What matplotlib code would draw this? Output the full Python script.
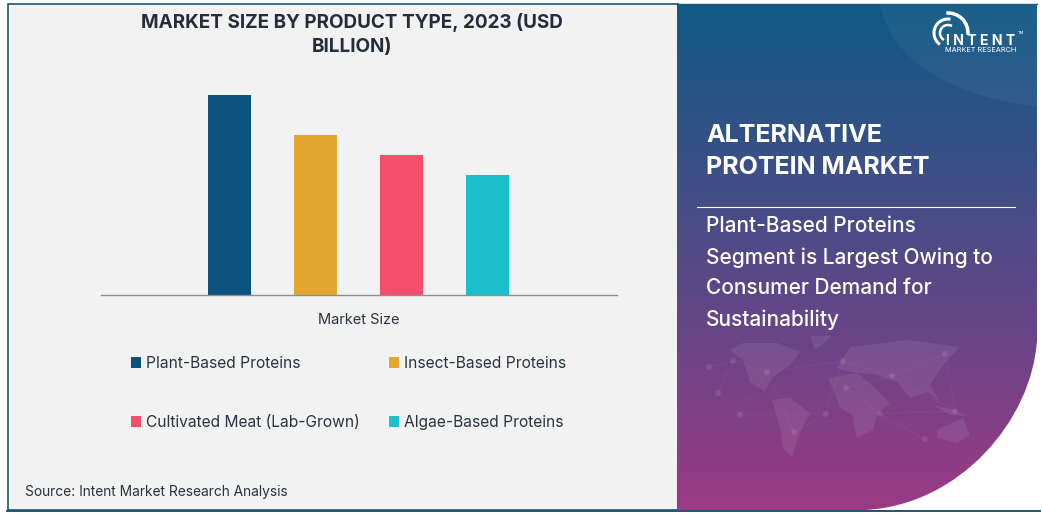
import numpy as np
import matplotlib
matplotlib.use("Agg")
import matplotlib.pyplot as plt
from matplotlib.patches import Rectangle, PathPatch, Polygon, Arc, Circle
from matplotlib.path import Path

title = "MARKET SIZE BY PRODUCT TYPE, 2023 (USD\nBILLION)"
group_label = "Market Size"
categories = ["Plant-Based Proteins", "Insect-Based Proteins",
              "Cultivated Meat (Lab-Grown)", "Algae-Based Proteins"]
values = [50, 40, 35, 30]
colors = ["#0B527F", "#E3A72F", "#F54F6B", "#1CC0CC"]
source = "Source: Intent Market Research Analysis"
panel_title = ["ALTERNATIVE", "PROTEIN MARKET"]
panel_lines = ["Plant-Based Proteins", "Segment is Largest Owing to",
               "Consumer Demand for", "Sustainability"]

W, H = 1043, 513
FONT = "Inter"
plt.rcParams["font.family"] = [FONT, "DejaVu Sans"]
fig = plt.figure(figsize=(W/100, H/100), dpi=100, facecolor="white")

# Full-figure layer in pixel coordinates
bg = fig.add_axes([0, 0, 1, 1], zorder=0)
bg.set_xlim(0, W); bg.set_ylim(H, 0); bg.axis("off")
bg.add_patch(Rectangle((7.5, 3.5), 670, 506.5, fc="#F2F2F2", ec="#1F5575", lw=1.2))
bg.plot([7, 1040], [510.5, 510.5], color="#1F5575", lw=1.4)
bg.plot([677, 1037], [3.5, 3.5], color="#1F5575", lw=1.0)

# Gradient panel with curved lower-right corner
grad = np.linspace(0, 1, 256)[:, None]
c0, c1, c2 = np.array([15, 90, 133])/255, np.array([100, 70, 135])/255, np.array([155, 58, 132])/255
img = np.where(grad < 0.62, c0 + (c1-c0)*grad/0.62, c1 + (c2-c1)*(grad-0.62)/0.38)
im = bg.imshow(img.reshape(256, 1, 3), extent=(677, 1037, 510, 4), aspect="auto", zorder=1)
bg.set_xlim(0, W); bg.set_ylim(H, 0)
verts = [(677, 4), (1037, 4), (1037, 340), (1032, 420), (960, 505), (865, 510), (677, 510), (677, 4)]
codes = [Path.MOVETO, Path.LINETO, Path.LINETO, Path.CURVE4, Path.CURVE4, Path.CURVE4, Path.LINETO, Path.CLOSEPOLY]
clip = PathPatch(Path(verts, codes), fc="none", ec="none", transform=bg.transData)
bg.add_patch(clip)
im.set_clip_path(clip)

# Soft top-right sweep
sweep_v = [(880, 4), (890, 60), (950, 95), (1037, 107), (1037, 4), (880, 4)]
sweep_c = [Path.MOVETO, Path.CURVE4, Path.CURVE4, Path.CURVE4, Path.LINETO, Path.CLOSEPOLY]
bg.add_patch(PathPatch(Path(sweep_v, sweep_c), fc="white", alpha=0.045, ec="none", zorder=2))

# Faint world map decoration
continents = [
    [(730, 350), (743, 343), (777, 343), (800, 352), (790, 365), (772, 378), (765, 392), (750, 382), (743, 360)],
    [(810, 336), (832, 336), (815, 350)],
    [(772, 400), (790, 398), (810, 413), (800, 432), (792, 457), (783, 448), (780, 428)],
    [(828, 378), (857, 373), (877, 390), (890, 403), (877, 415), (873, 430), (857, 438), (852, 415), (840, 407)],
    [(837, 368), (850, 347), (907, 340), (960, 347), (943, 365), (930, 385), (940, 402), (927, 392), (910, 398), (897, 382), (877, 375), (850, 372)],
    [(937, 430), (963, 418), (970, 435), (957, 443), (937, 438)],
    [(933, 405), (955, 410), (967, 416), (950, 415)],
]
for pts in continents:
    bg.add_patch(Polygon(pts, closed=True, fc="white", alpha=0.08, ec="none", zorder=2))
nodes = {"a": (709, 367), "b": (733, 361), "c": (718, 393), "d": (740, 415), "e": (826, 414),
         "f": (794, 432), "g": (892, 376), "h": (843, 361), "i": (955, 411), "j": (880, 414),
         "k": (945, 354), "l": (925, 439), "m": (767, 372), "n": (846, 388)}
links = ["ab", "bc", "cd", "dm", "bm", "de", "ef", "eh", "hg", "gk", "gn", "gi", "ij", "jl", "nj", "mh", "fm", "ki"]
for a, b in links:
    (x0, y0), (x1, y1) = nodes[a], nodes[b]
    bg.plot([x0, x1], [y0, y1], color="white", alpha=0.06, lw=0.5, zorder=2)
for nx, ny in nodes.values():
    bg.add_patch(Circle((nx, ny), 3, fc="white", alpha=0.09, ec="none", zorder=2))

# Bar chart
ax = fig.add_axes([101/W, 1-295/H, 516/W, 235/H], zorder=2)
ax.patch.set_alpha(0)
x = np.arange(len(values))
ax.bar(x, values, width=0.5, color=colors)
ax.set_xlim((101-229.5)/86, (617-229.5)/86)
ax.set_ylim(0, 58.75)
ax.set_yticks([]); ax.set_xticks([])
for s in ["top", "left", "right"]:
    ax.spines[s].set_visible(False)
ax.spines["bottom"].set_color("#8A8F94")
ax.spines["bottom"].set_linewidth(1.0)

TXT = "#2B3240"
bg.text(352, 34.5, title, ha="center", va="center", fontsize=13.6, fontweight="bold",
        color="#262D3A", linespacing=1.45, zorder=3)
bg.text(359, 320, group_label, ha="center", va="center", fontsize=10.5, color=TXT, zorder=3)
leg_x = [136, 394, 136, 394]
leg_y = [363, 363, 422, 422]
for name, col, lx, ly in zip(categories, colors, leg_x, leg_y):
    bg.add_patch(Rectangle((lx-5, ly-6), 10, 11, fc=col, ec="none", zorder=3))
    bg.text(lx+10, ly+0.5, name, ha="left", va="center", fontsize=11.2, color=TXT, zorder=3)
bg.text(25, 492, source, ha="left", va="center", fontsize=9.9, color=TXT, zorder=3)

for s, y in zip(panel_title, [136, 168]):
    bg.text(706.5, y, s, ha="left", va="center", fontsize=18, fontweight="bold", color="white", zorder=3)
bg.plot([697, 1015], [206.5, 206.5], color="white", lw=0.8, zorder=3)
for s, y in zip(panel_lines, [226.5, 257.5, 288.5, 319.5]):
    bg.text(706, y, s, ha="left", va="center", fontsize=15, fontweight="medium", color="white", zorder=3)

# Logo
lc = (948, 33)
for r, t1, t2, lw in [(8, 120, 300, 1.8), (14, 125, 280, 2.2), (20, 265, 365, 2.5)]:
    bg.add_patch(Arc(lc, 2*r, 2*r, theta1=t1, theta2=t2, color="white", lw=lw, zorder=3))
bg.text(981, 41, "I N T E N T", ha="center", va="center", fontsize=10.2, fontweight="bold",
        color="white", zorder=4)
bg.text(1021, 33, "TM", ha="center", va="center", fontsize=3, color="white", zorder=4)
bg.text(981, 50, "MARKET RESEARCH", ha="center", va="center", fontsize=5.3, color="white", zorder=4)

fig.savefig("out.png", dpi=100)
